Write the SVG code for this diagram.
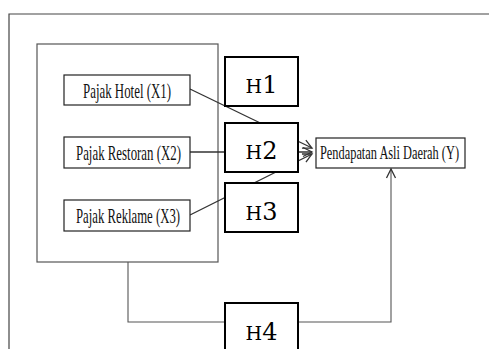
<svg xmlns="http://www.w3.org/2000/svg" width="489" height="349" viewBox="0 0 489 349">
<style>
.frame{fill:none;stroke:#444;stroke-width:1.2}
.grp{fill:#fff;stroke:#555;stroke-width:1.2}
.var{fill:#fff;stroke:#222;stroke-width:1.2}
.hyp{fill:#fff;stroke:#000;stroke-width:2}
.vt{font-family:"Liberation Serif","Times New Roman",serif;font-size:21px;fill:#111}
.yt{font-family:"Liberation Serif","Times New Roman",serif;font-size:19px;fill:#111}
.ht{font-family:"DejaVu Serif","Liberation Serif",serif;fill:#000;text-anchor:middle}
.c{fill:none;stroke:#333;stroke-width:1.3}
.c2{fill:none;stroke:#555;stroke-width:1.1}
</style>
<defs>
<marker id="ah" markerUnits="userSpaceOnUse" markerWidth="12" markerHeight="12" refX="10" refY="5" orient="auto" viewBox="0 0 12 10">
<path d="M1,0.5 L10,5 L1,9.5" fill="none" stroke="#333" stroke-width="1.3"/>
</marker>
</defs>
<rect width="489" height="349" fill="#fff"/>
<path class="frame" d="M9,349 V14 H489"/>
<g id="group-box"><rect class="grp" x="37" y="44" width="181" height="218"/></g>
<g id="connectors">
<line class="c" x1="190" y1="89" x2="312" y2="148" marker-end="url(#ah)"/>
<line class="c" x1="190" y1="152" x2="312" y2="152" marker-end="url(#ah)"/>
<line class="c" x1="190" y1="215" x2="312" y2="154" marker-end="url(#ah)"/>
<polyline class="c2" points="128,262 128,322 225,322"/>
<polyline class="c2" points="298,322 391,322 391,169" marker-end="url(#ah)"/>
</g>
<g id="x1"><rect class="var" x="64" y="75" width="126" height="30"/><text class="vt" x="83" y="97.5" textLength="88" lengthAdjust="spacingAndGlyphs">Pajak Hotel (X1)</text></g>
<g id="x2"><rect class="var" x="64" y="137" width="126" height="31"/><text class="vt" x="76" y="159.5" textLength="105" lengthAdjust="spacingAndGlyphs">Pajak Restoran (X2)</text></g>
<g id="x3"><rect class="var" x="64" y="200" width="126" height="31"/><text class="vt" x="76" y="222.5" textLength="104" lengthAdjust="spacingAndGlyphs">Pajak Reklame (X3)</text></g>
<g id="y"><rect class="var" x="316" y="138" width="149" height="30"/><text class="yt" x="320" y="159" textLength="139" lengthAdjust="spacingAndGlyphs">Pendapatan Asli Daerah (Y)</text></g>
<g id="h1"><rect class="hyp" x="225" y="57" width="73" height="49"/><text class="ht" x="261.5" y="93"><tspan font-size="19">H</tspan><tspan font-size="24">1</tspan></text></g>
<g id="h2"><rect class="hyp" x="225" y="123" width="73" height="49"/><text class="ht" x="261.5" y="159"><tspan font-size="19">H</tspan><tspan font-size="24">2</tspan></text></g>
<g id="h3"><rect class="hyp" x="225" y="183" width="73" height="49"/><text class="ht" x="261.5" y="220"><tspan font-size="19">H</tspan><tspan font-size="24">3</tspan></text></g>
<g id="h4"><rect class="hyp" x="225" y="303" width="73" height="52"/><text class="ht" x="261.5" y="340"><tspan font-size="19">H</tspan><tspan font-size="24">4</tspan></text></g>
</svg>
